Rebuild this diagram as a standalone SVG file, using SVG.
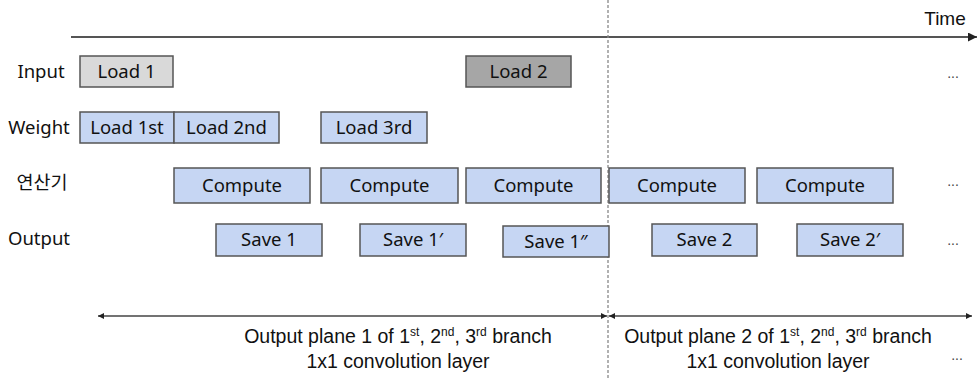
<svg xmlns="http://www.w3.org/2000/svg" width="978" height="378" viewBox="0 0 978 378">
  <style>
    .box { fill: #c6d6f3; stroke: #555; stroke-width: 1.5; }
    .lt { fill: #d9d9d9; stroke: #555; stroke-width: 1.5; }
    .dk { fill: #a6a6a6; stroke: #555; stroke-width: 1.5; }
    .bt { font-family: "Noto Sans", "Open Sans", sans-serif; font-size: 18.5px; fill: #111; text-anchor: middle; }
    .lbl { font-family: "Noto Sans", "Noto Sans CJK KR", sans-serif; font-size: 18.5px; fill: #111; text-anchor: middle; }
    .cap { font-family: "Liberation Sans", Arial, sans-serif; font-size: 19.5px; fill: #111; text-anchor: middle; }
    .dots { font-family: "Liberation Sans", Arial, sans-serif; font-size: 14px; fill: #444; text-anchor: middle; }
    .ax { stroke: #555; stroke-width: 2; fill: none; }
    .dim { stroke: #444; stroke-width: 1.5; fill: none; }
  </style>
  <defs>
    <marker id="ah" viewBox="0 0 10 10" refX="10" refY="5" markerWidth="6" markerHeight="6" orient="auto-start-reverse" markerUnits="userSpaceOnUse">
      <path d="M0,0 L10,5 L0,10 z" fill="#222"/>
    </marker>
    <marker id="ahBig" viewBox="0 0 10 10" refX="10" refY="5" markerWidth="9" markerHeight="9" orient="auto" markerUnits="userSpaceOnUse">
      <path d="M0,0 L10,5 L0,10 z" fill="#222"/>
    </marker>
  </defs>

  <!-- connectors: time axis, phase divider, span arrows -->
  <g id="connectors">
    <line class="ax" x1="71" y1="37" x2="977" y2="37" marker-end="url(#ahBig)"/>
    <line x1="608" y1="0" x2="608" y2="378" stroke="#888" stroke-width="1.3" stroke-dasharray="3,2"/>
    <line class="dim" x1="98" y1="316" x2="607" y2="316" marker-start="url(#ah)" marker-end="url(#ah)"/>
    <line class="dim" x1="609" y1="316" x2="972" y2="316" marker-start="url(#ah)" marker-end="url(#ah)"/>
  </g>

  <text class="cap" x="945" y="25" style="font-size:19px">Time</text>

  <!-- row labels -->
  <g id="row-labels">
    <text class="lbl" x="41" y="78">Input</text>
    <text class="lbl" x="39" y="134">Weight</text>
    <text class="lbl" x="42" y="189">연산기</text>
    <text class="lbl" x="39" y="245">Output</text>
  </g>

  <!-- input loads -->
  <g id="input-load1"><rect class="lt" x="80" y="56" width="93" height="31"/><text class="bt" x="126.5" y="78">Load 1</text></g>
  <g id="input-load2"><rect class="dk" x="466" y="56" width="105" height="31"/><text class="bt" x="518.5" y="78">Load 2</text></g>

  <!-- weight loads -->
  <g id="weight-load1"><rect class="box" x="80" y="112" width="94" height="31"/><text class="bt" x="127" y="134">Load 1st</text></g>
  <g id="weight-load2"><rect class="box" x="174" y="112" width="105" height="31"/><text class="bt" x="226.5" y="134">Load 2nd</text></g>
  <g id="weight-load3"><rect class="box" x="321" y="112" width="106" height="31"/><text class="bt" x="374" y="134">Load 3rd</text></g>

  <!-- compute slots -->
  <g id="compute1"><rect class="box" x="174" y="168" width="136" height="35"/><text class="bt" x="242" y="192">Compute</text></g>
  <g id="compute2"><rect class="box" x="321" y="168" width="137" height="35"/><text class="bt" x="389.5" y="192">Compute</text></g>
  <g id="compute3"><rect class="box" x="466" y="168" width="135" height="35"/><text class="bt" x="533.5" y="192">Compute</text></g>
  <g id="compute4"><rect class="box" x="609" y="168" width="136" height="35"/><text class="bt" x="677" y="192">Compute</text></g>
  <g id="compute5"><rect class="box" x="757" y="168" width="136" height="35"/><text class="bt" x="825" y="192">Compute</text></g>

  <!-- output saves -->
  <g id="save1"><rect class="box" x="216" y="224" width="106" height="32"/><text class="bt" x="269" y="246">Save 1</text></g>
  <g id="save1p"><rect class="box" x="360" y="224" width="106" height="32"/><text class="bt" x="413" y="246">Save 1′</text></g>
  <g id="save1pp"><rect class="box" x="503" y="226" width="106" height="31"/><text class="bt" x="556" y="248">Save 1″</text></g>
  <g id="save2"><rect class="box" x="652" y="224" width="105" height="32"/><text class="bt" x="704.5" y="246">Save 2</text></g>
  <g id="save2p"><rect class="box" x="797" y="224" width="106" height="32"/><text class="bt" x="850" y="246">Save 2′</text></g>

  <!-- continuation marks -->
  <text class="dots" x="953" y="78">...</text>
  <text class="dots" x="953" y="186">...</text>
  <text class="dots" x="953" y="245">...</text>
  <text class="dots" x="957" y="360">...</text>

  <!-- span captions -->
  <text class="cap" x="398" y="343">Output plane 1 of 1<tspan dy="-7" font-size="12">st</tspan><tspan dy="7">, 2</tspan><tspan dy="-7" font-size="12">nd</tspan><tspan dy="7">, 3</tspan><tspan dy="-7" font-size="12">rd</tspan><tspan dy="7"> branch</tspan></text>
  <text class="cap" x="398" y="368">1x1 convolution layer</text>
  <text class="cap" x="778" y="343">Output plane 2 of 1<tspan dy="-7" font-size="12">st</tspan><tspan dy="7">, 2</tspan><tspan dy="-7" font-size="12">nd</tspan><tspan dy="7">, 3</tspan><tspan dy="-7" font-size="12">rd</tspan><tspan dy="7"> branch</tspan></text>
  <text class="cap" x="778" y="368">1x1 convolution layer</text>
</svg>
